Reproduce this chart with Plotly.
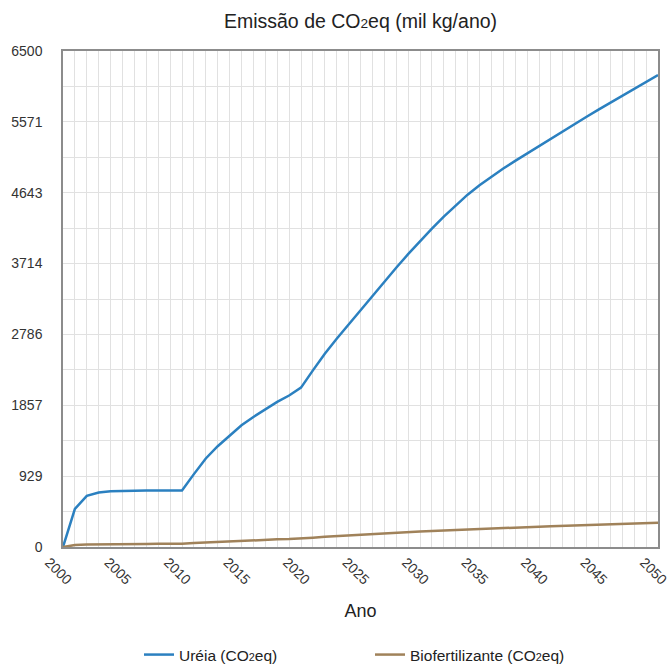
import plotly.graph_objects as go

# Anos da projeção
anos = list(range(2000, 2051))

# Emissão da ureia (mil kg CO2eq por ano)
ureia = [
    0, 500, 670, 715, 732, 738, 740, 741, 741, 741,
    741, 955, 1160, 1321, 1465, 1596, 1704, 1805, 1901, 1985,
    2089, 2315, 2533, 2729, 2916, 3100, 3293, 3480, 3660, 3837,
    4008, 4172, 4330, 4480, 4617, 4742, 4856, 4960, 5060, 5158,
    5255, 5353, 5450, 5545, 5638, 5732, 5824, 5915, 6006, 6097,
    6186,
]

# Emissão do biofertilizante (mil kg CO2eq por ano)
biofertilizante = [
    0, 25, 33, 36, 38, 39, 40, 40, 41, 41,
    42, 52, 60, 68, 75, 82, 88, 94, 100, 105,
    110, 122, 133, 143, 153, 162, 171, 180, 188, 196,
    204, 211, 218, 225, 232, 238, 244, 250, 256, 261,
    266, 271, 276, 281, 286, 291, 296, 301, 306, 311,
    318,
]

# Rótulos do eixo vertical (sete divisões iguais até 6500)
y_max = 6500
y_passos = 7
y_rotulos = ["0", "929", "1857", "2786", "3714", "4643", "5571", "6500"]
y_valores = [y_max * i / y_passos for i in range(y_passos + 1)]

x_rotulos = list(range(2000, 2051, 5))

FONTE = "Liberation Sans, Arial, Helvetica, sans-serif"
GRADE = "#e1e1e1"
CO2 = 'CO<span style="font-size:0.7em">2</span>eq'

fig = go.Figure()
fig.add_trace(go.Scatter(
    x=anos, y=ureia, mode="lines", name=f"Uréia ({CO2})",
    line=dict(color="#2b80c0", width=2.5),
))
fig.add_trace(go.Scatter(
    x=anos, y=biofertilizante, mode="lines", name=f"Biofertilizante ({CO2})",
    line=dict(color="#a0825a", width=2.5),
))

fig.update_layout(
    width=672, height=664,
    margin=dict(l=63, r=14, t=51, b=117),
    paper_bgcolor="white", plot_bgcolor="white",
    font=dict(family=FONTE, color="#222222"),
    title=dict(
        text=f"Emissão de {CO2} (mil kg/ano)",
        x=0.5, xref="paper", xanchor="center",
        y=1 - 21 / 664, yref="container", yanchor="middle",
        font=dict(size=19.5, color="#222222"),
    ),
    showlegend=True,
    legend=dict(
        orientation="h", x=0.5506, xanchor="center", xref="container",
        y=(664 - 655) / 664, yanchor="middle", yref="container",
        font=dict(size=15.5, color="#222222"),
        entrywidth=186, itemwidth=30,
    ),
)

fig.update_xaxes(
    range=[2000, 2050], automargin=False,
    tickmode="array", tickvals=x_rotulos, ticktext=[str(v) for v in x_rotulos],
    tickangle=45, ticklabelshift=-14,
    tickfont=dict(size=14, color="#333333"),
    showgrid=True, gridcolor=GRADE, gridwidth=1,
    minor=dict(dtick=1, tick0=2000, showgrid=True, gridcolor=GRADE, gridwidth=1),
    showline=True, linecolor="#8c8c8c", linewidth=1.5, mirror=True,
    ticks="", zeroline=False,
    title=dict(text="Ano", font=dict(size=18, color="#222222"), standoff=18),
)

fig.update_yaxes(
    range=[0, y_max], automargin=False,
    tickmode="array", tickvals=y_valores, ticktext=y_rotulos,
    tickfont=dict(size=14, color="#333333"),
    ticklabelstandoff=16,
    showgrid=True, gridcolor=GRADE, gridwidth=1,
    minor=dict(dtick=y_max / (2 * y_passos), tick0=0, showgrid=True, gridcolor=GRADE, gridwidth=1),
    showline=True, linecolor="#8c8c8c", linewidth=1.5, mirror=True,
    ticks="", zeroline=False,
)

fig.write_html("out.html")
